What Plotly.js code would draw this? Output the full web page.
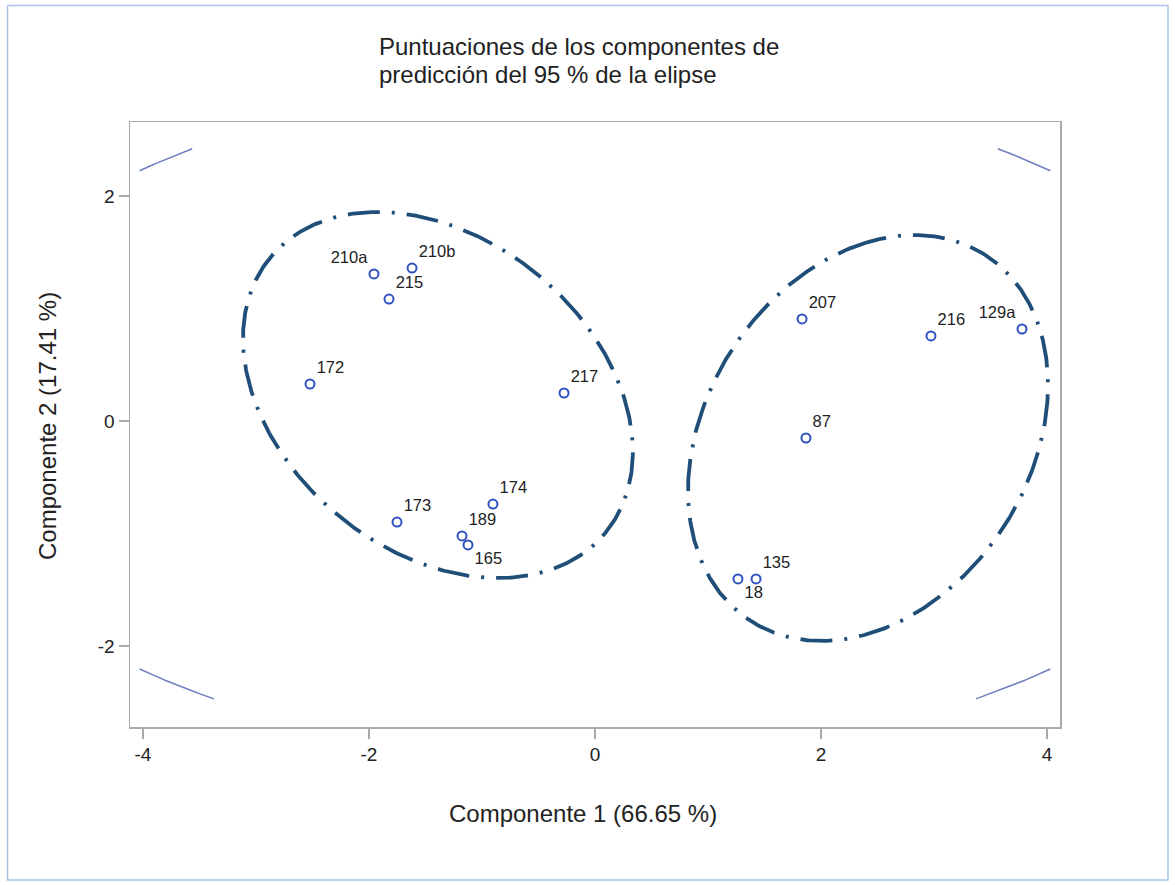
<!DOCTYPE html>
<html>
<head>
<meta charset="utf-8">
<script src="https://cdn.plot.ly/plotly-3.0.1.min.js"></script>
<style>
  html, body { margin: 0; padding: 0; background: #ffffff; }
  #chart { width: 1175px; height: 885px; }
</style>
</head>
<body>
<div id="chart"></div>
<script>
// ---- Data ----
const pointLabels = ["210a", "210b", "215", "172", "217", "173", "174", "189", "165",
                     "207", "216", "129a", "87", "135", "18"];
const comp1 = [-1.956, -1.619, -1.823, -2.522, -0.274, -1.752, -0.903, -1.177, -1.124,
               1.832, 2.973, 3.779, 1.867, 1.425, 1.265];
const comp2 = [1.307, 1.360, 1.084, 0.329, 0.249, -0.898, -0.738, -1.022, -1.102,
               0.907, 0.756, 0.818, -0.151, -1.404, -1.404];
const labelPositions = ["top left", "top right", "top right", "top right", "top right",
                        "top right", "top right", "top right", "bottom right",
                        "top right", "top right", "top left", "top right", "top right", "bottom right"];

// Ellipse parameters: centre, half-extent in x, half-extent in y, correlation
const leftEllipse  = {cx: -1.39, cy: 0.231, sx: 1.725, sy: 1.627, r: -0.31};
const rightEllipse = {cx: 2.416, cy: -0.151, sx: 1.593, sy: 1.804, r: 0.26};
const bigEllipse   = {cx: 0.0, cy: 0.01, sx: 5.95, sy: 3.01, r: 0.0};
const bigClip = {x0: -4.03, x1: 4.03, y0: -2.47, y1: 2.42};

const xTicks = [-4, -2, 0, 2, 4];
const yTicks = [-2, 0, 2];

const titleLine1 = "Puntuaciones de los componentes de";
const titleLine2 = "predicción del 95 % de la elipse";
const xTitle = "Componente 1 (66.65 %)";
const yTitle = "Componente 2 (17.41 %)";

// ---- Helpers ----
function ellipsePts(e, n) {
  const xs = [], ys = [];
  const q = Math.sqrt(1 - e.r * e.r);
  for (let i = 0; i <= n; i++) {
    const t = 2 * Math.PI * i / n + Math.PI / 2;
    xs.push(e.cx + e.sx * Math.cos(t));
    ys.push(e.cy + e.sy * (e.r * Math.cos(t) + q * Math.sin(t)));
  }
  return {x: xs, y: ys};
}
function inside(x, y, b) { return x >= b.x0 && x <= b.x1 && y >= b.y0 && y <= b.y1; }
function clipPts(p, b) {
  const xs = [], ys = [];
  for (let i = 0; i < p.x.length; i++) {
    const inNow = inside(p.x[i], p.y[i], b);
    if (i > 0) {
      const inPrev = inside(p.x[i-1], p.y[i-1], b);
      if (inNow !== inPrev) {
        let ax = p.x[i-1], ay = p.y[i-1], bx = p.x[i], by = p.y[i];
        for (let k = 0; k < 40; k++) {
          const mx = (ax + bx) / 2, my = (ay + by) / 2;
          if (inside(mx, my, b) === inPrev) { ax = mx; ay = my; } else { bx = mx; by = my; }
        }
        const ix = (ax + bx) / 2, iy = (ay + by) / 2;
        if (inPrev) { xs.push(ix); ys.push(iy); xs.push(null); ys.push(null); }
        else { xs.push(ix); ys.push(iy); }
      }
    }
    if (inNow) { xs.push(p.x[i]); ys.push(p.y[i]); }
  }
  return {x: xs, y: ys};
}

const L = ellipsePts(leftEllipse, 600);
const R = ellipsePts(rightEllipse, 600);
const B = clipPts(ellipsePts(bigEllipse, 4000), bigClip);

const navy = "#1F4E79";
const dashPattern = "32px,12px,3px,12px";

const traces = [
  {x: B.x, y: B.y, mode: "lines", type: "scatter", hoverinfo: "skip",
   line: {color: "#6F7FBF", width: 1.5}, connectgaps: false},
  {x: L.x, y: L.y, mode: "lines", type: "scatter", hoverinfo: "skip",
   line: {color: navy, width: 3.8, dash: dashPattern}},
  {x: R.x, y: R.y, mode: "lines", type: "scatter", hoverinfo: "skip",
   line: {color: navy, width: 3.8, dash: dashPattern}},
  {x: comp1, y: comp2, text: pointLabels, textposition: labelPositions,
   mode: "markers+text", type: "scatter",
   marker: {symbol: "circle-open", size: 9, color: "#2F52C0", line: {width: 2, color: "#2F52C0"}},
   textfont: {family: "Liberation Sans, Arial, sans-serif", size: 16.5, color: "#222222"}}
];

const PL = 130, PR = 115, PT = 122, PB = 158;
const W = 1175, H = 885;
const pw = W - PL - PR, ph = H - PT - PB;
function px2paperX(px) { return (px - PL) / pw; }
function px2paperY(py) { return (H - PB - py) / ph; }

const font = "Liberation Sans, Arial, sans-serif";

const layout = {
  width: W, height: H,
  margin: {l: PL, r: PR, t: PT, b: PB, pad: 0},
  paper_bgcolor: "#ffffff", plot_bgcolor: "#ffffff",
  showlegend: false,
  font: {family: font, color: "#222222"},
  xaxis: {
    range: [-4.115, 4.115], tickvals: xTicks, ticktext: xTicks.map(String),
    showgrid: false, zeroline: false, showline: true, mirror: true,
    linecolor: "#AAAAAA", linewidth: 1.5,
    ticks: "outside", ticklen: 10, tickcolor: "#AAAAAA", tickwidth: 1.5,
    tickfont: {family: font, size: 19, color: "#222222"}
  },
  yaxis: {
    range: [-2.72, 2.658], tickvals: yTicks, ticktext: yTicks.map(String),
    showgrid: false, zeroline: false, showline: true, mirror: true,
    linecolor: "#AAAAAA", linewidth: 1.5,
    ticks: "outside", ticklen: 10, tickcolor: "#AAAAAA", tickwidth: 1.5,
    tickfont: {family: font, size: 19, color: "#222222"}
  },
  annotations: [
    {text: titleLine1, xref: "paper", yref: "paper", x: px2paperX(377), y: px2paperY(47),
     xanchor: "left", yanchor: "middle", showarrow: false,
     font: {family: font, size: 24, color: "#222222"}},
    {text: titleLine2, xref: "paper", yref: "paper", x: px2paperX(377), y: px2paperY(75),
     xanchor: "left", yanchor: "middle", showarrow: false,
     font: {family: font, size: 24, color: "#222222"}},
    {text: xTitle, xref: "paper", yref: "paper", x: px2paperX(583), y: px2paperY(813),
     xanchor: "center", yanchor: "middle", showarrow: false,
     font: {family: font, size: 24, color: "#222222"}},
    {text: yTitle, xref: "paper", yref: "paper", x: px2paperX(48), y: px2paperY(426),
     xanchor: "center", yanchor: "middle", showarrow: false, textangle: -90,
     font: {family: font, size: 24, color: "#222222"}}
  ],
  shapes: [
    {type: "rect", xref: "paper", yref: "paper",
     x0: px2paperX(7.5), x1: px2paperX(1168), y0: px2paperY(880), y1: px2paperY(5.5),
     line: {color: "#A9C4E8", width: 1.5}, fillcolor: "rgba(0,0,0,0)", layer: "below"}
  ]
};

Plotly.newPlot("chart", traces, layout, {displayModeBar: false, staticPlot: true});
</script>
</body>
</html>
